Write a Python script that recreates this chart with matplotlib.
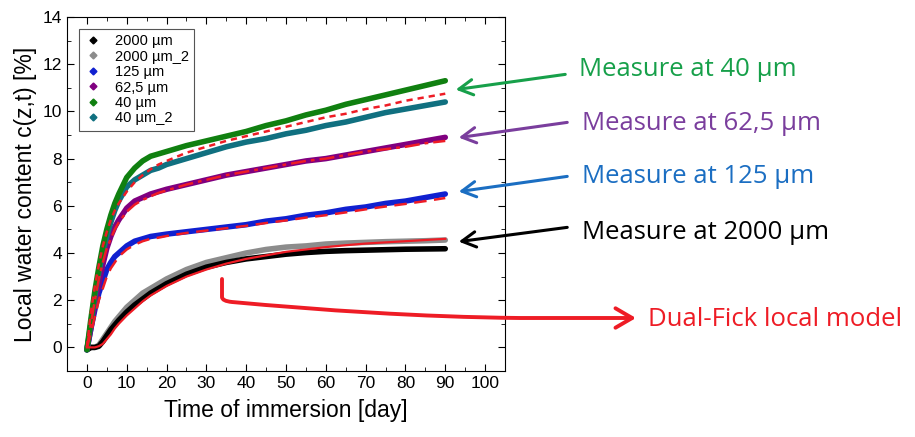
import numpy as np
import matplotlib
matplotlib.use("Agg")
import matplotlib.pyplot as plt
from matplotlib.lines import Line2D
from matplotlib.patches import FancyArrowPatch
from matplotlib.path import Path

jours = [0, 1, 2, 3, 4, 5, 6, 7, 8, 10, 12, 14, 16, 18, 20, 25, 30, 35, 40,
         45, 50, 55, 60, 65, 70, 75, 80, 85, 90]

# Mesures
m_2000 = [-0.1, 0.0, 0.0, 0.05, 0.25, 0.5, 0.75, 0.95, 1.15, 1.5, 1.8, 2.05, 2.3, 2.5, 2.7,
          3.1, 3.4, 3.6, 3.75, 3.85, 3.95, 4.02, 4.07, 4.1, 4.12, 4.14, 4.16, 4.17, 4.18]
m_2000_2 = [-0.1, 0.0, 0.0, 0.1, 0.35, 0.6, 0.85, 1.1, 1.3, 1.7, 2.0, 2.3, 2.5, 2.7, 2.9,
            3.3, 3.6, 3.8, 4.0, 4.15, 4.25, 4.3, 4.38, 4.42, 4.45, 4.48, 4.5, 4.52, 4.55]
m_125 = [-0.1, 0.8, 1.6, 2.3, 2.8, 3.3, 3.6, 3.85, 4.0, 4.3, 4.5, 4.6, 4.7, 4.75, 4.8,
         4.9, 5.0, 5.1, 5.2, 5.35, 5.45, 5.6, 5.7, 5.85, 5.95, 6.1, 6.2, 6.35, 6.5]
m_62 = [-0.1, 0.8, 1.8, 2.7, 3.5, 4.2, 4.7, 5.1, 5.4, 5.9, 6.2, 6.35, 6.5, 6.6, 6.7,
        6.9, 7.1, 7.3, 7.45, 7.6, 7.75, 7.9, 8.0, 8.15, 8.3, 8.45, 8.6, 8.75, 8.9]
m_40 = [-0.1, 1.2, 2.4, 3.4, 4.3, 5.0, 5.6, 6.1, 6.5, 7.2, 7.6, 7.9, 8.1, 8.2, 8.3,
        8.55, 8.75, 8.95, 9.15, 9.4, 9.6, 9.85, 10.05, 10.3, 10.5, 10.7, 10.9, 11.1, 11.3]
m_40_2 = [-0.1, 1.0, 2.2, 3.2, 4.0, 4.7, 5.3, 5.8, 6.2, 6.8, 7.1, 7.3, 7.5, 7.6, 7.75,
          8.0, 8.25, 8.5, 8.7, 8.85, 9.05, 9.2, 9.4, 9.55, 9.75, 9.95, 10.1, 10.25, 10.4]

# Modele Dual-Fick
mod_2000 = [0.0, 0.0, 0.0, 0.05, 0.15, 0.35, 0.55, 0.8, 1.0, 1.35, 1.65, 1.95, 2.2, 2.4, 2.6,
            3.0, 3.3, 3.55, 3.75, 3.9, 4.05, 4.15, 4.25, 4.33, 4.4, 4.45, 4.5, 4.55, 4.6]
mod_125 = [0.0, 0.6, 1.3, 2.0, 2.5, 3.0, 3.35, 3.6, 3.85, 4.15, 4.35, 4.5, 4.6, 4.65, 4.72,
           4.85, 4.95, 5.05, 5.15, 5.27, 5.38, 5.5, 5.6, 5.72, 5.85, 5.97, 6.08, 6.2, 6.33]
mod_62 = [0.0, 1.0, 2.0, 2.9, 3.6, 4.2, 4.6, 5.0, 5.3, 5.75, 6.05, 6.25, 6.4, 6.55, 6.65,
          6.9, 7.1, 7.3, 7.45, 7.6, 7.75, 7.9, 8.0, 8.15, 8.3, 8.4, 8.5, 8.65, 8.75]
mod_40 = [0.0, 1.5, 2.6, 3.5, 4.3, 4.9, 5.4, 5.8, 6.1, 6.6, 7.0, 7.3, 7.55, 7.75, 7.9,
          8.25, 8.5, 8.75, 8.95, 9.15, 9.35, 9.55, 9.75, 9.9, 10.1, 10.25, 10.45, 10.6, 10.75]

etichette = ['2000 µm', '2000 µm_2', '125 µm', '62,5 µm', '40 µm', '40 µm_2']
colori = ['black', '#8c8c8c', '#1020d0', '#800080', '#108010', '#107080']
misure = [m_2000, m_2000_2, m_125, m_62, m_40, m_40_2]

W, H = 915, 437
fig = plt.figure(figsize=(W / 100, H / 100), dpi=100)
plt.rcParams['font.family'] = ['Liberation Sans', 'DejaVu Sans']
ax = fig.add_axes([67 / W, 1 - 371 / H, (505 - 67) / W, (371 - 17) / H])

ordine = [1, 0, 2, 3, 5, 4]
for i in ordine:
    ax.plot(jours, misure[i], color=colori[i], lw=4, solid_capstyle='round')

rosso = '#ee1c25'
ax.plot(jours, mod_2000, color=rosso, lw=1.6, ls='-')
ax.plot(jours, mod_125, color=rosso, lw=1.8, ls=(0, (5, 3)))
ax.plot(jours, mod_62, color=rosso, lw=1.8, ls=(0, (6, 2, 1.5, 2)))
ax.plot(jours, mod_40, color=rosso, lw=1.8, ls=(0, (2.5, 2)))

ax.set_xlim(-5, 105)
ax.set_ylim(-1, 14)
ax.set_xticks(np.arange(0, 101, 10))
ax.set_xticks(np.arange(0, 101, 5), minor=True)
ax.set_yticks(np.arange(0, 15, 2))
ax.set_yticks(np.arange(-1, 15, 1), minor=True)
ax.tick_params(which='both', direction='in', top=True, right=True, labelsize=12.5)
ax.tick_params(which='major', length=5)
ax.tick_params(which='minor', length=3)
ax.set_xlabel('Time of immersion [day]', fontsize=16.5, labelpad=6)
ax.set_ylabel('Local water content c(z,t) [%]', fontsize=16.5, labelpad=4)

maniglie = [Line2D([], [], ls='none', marker='D', ms=3.5, color=c) for c in colori]
leg = ax.legend(maniglie, etichette, loc='upper left', bbox_to_anchor=(0.027, 0.966),
                borderaxespad=0, fontsize=10.5, labelspacing=0.1, handlelength=1.2,
                handletextpad=0.9, borderpad=0.35, fancybox=False, framealpha=1,
                edgecolor='#555555')
leg.get_frame().set_linewidth(0.8)


def fp(x, y):
    return (x / W, 1 - y / H)


# Annotazioni
fnt = ['Open Sans', 'DejaVu Sans']
note = [
    ('Measure at 40 µm', '#17a04a', (568, 74), (453, 90), (579, 70)),
    ('Measure at 62,5 µm', '#7a3e9d', (570, 122), (456, 138), (582, 123)),
    ('Measure at 125 µm', '#1b6ec2', (570, 176), (456, 192), (582, 177)),
    ('Measure at 2000 µm', 'black', (570, 227), (456, 242), (582, 233)),
]
for testo, col, p0, p1, pt in note:
    fig.patches.append(FancyArrowPatch(fp(*p0), fp(*p1), transform=fig.transFigure,
                                       arrowstyle='->,head_length=10,head_width=5.5',
                                       color=col, lw=2.2, mutation_scale=1))
    fig.text(*fp(*pt), testo, color=col, fontsize=18.5, va='center', ha='left', family=fnt)

verts = [fp(222, 279), fp(222, 297), fp(222, 301), fp(232, 302),
         fp(320, 310), fp(420, 317), fp(520, 318), fp(636, 318)]
codes = [Path.MOVETO, Path.LINETO, Path.CURVE3, Path.CURVE3,
         Path.CURVE4, Path.CURVE4, Path.CURVE4, Path.LINETO]
percorso = Path(verts, codes)
fig.patches.append(FancyArrowPatch(path=percorso, transform=fig.transFigure,
                                   arrowstyle='->,head_length=12,head_width=7',
                                   color=rosso, lw=2.8, mutation_scale=1))
fig.text(*fp(648, 319), 'Dual-Fick local model', color=rosso, fontsize=18.5,
         va='center', ha='left', family=fnt)

fig.savefig('out.png', dpi=100)
